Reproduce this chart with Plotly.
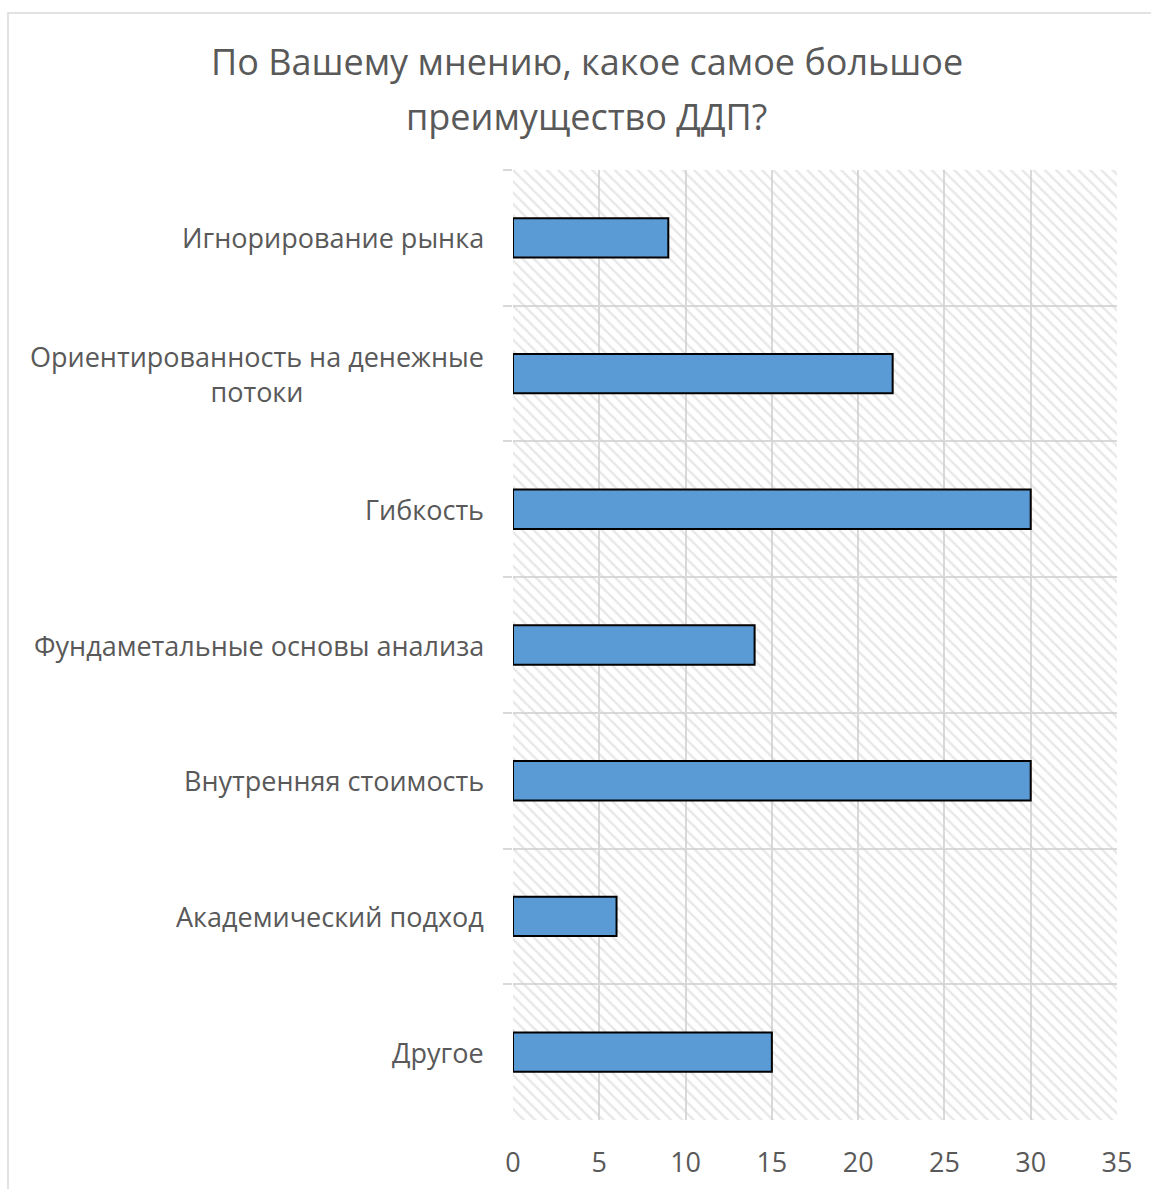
import plotly.graph_objects as go

title_lines = ["По Вашему мнению, какое самое большое", "преимущество ДДП?"]
categories = [
    "Игнорирование рынка",
    "Ориентированность на денежные<br>потоки",
    "Гибкость",
    "Фундаметальные основы анализа",
    "Внутренняя стоимость",
    "Академический подход",
    "Другое",
]
values = [9, 22, 30, 14, 30, 6, 15]
x_ticks = [0, 5, 10, 15, 20, 25, 30, 35]
x_max = 35

FONT = "Open Sans"
GRAY = "#595959"
GRID = "#d9d9d9"

W, H = 1151, 1189
L, R, T, B = 513, 1151 - 1117, 170, 1189 - 1120
pw, ph = W - L - R, H - T - B


def py2paper(py):
    return (H - B - py) / ph


fig = go.Figure()

# hatched plot-area background
fig.add_trace(go.Bar(
    y=categories, x=[x_max] * len(categories), orientation="h", width=1,
    marker=dict(color="rgba(0,0,0,0)", line=dict(width=0),
                pattern=dict(shape="\\", fgcolor="#d0d0d0", bgcolor="rgba(0,0,0,0)",
                             size=8, solidity=0.3)),
    hoverinfo="skip", showlegend=False,
))

fig.add_trace(go.Bar(
    y=categories, x=values, orientation="h", width=0.29,
    marker=dict(color="#5b9bd5", line=dict(color="black", width=2)),
    showlegend=False,
))

# category labels as centered multi-line annotations
for c in categories:
    fig.add_annotation(
        x=0, xref="paper", xshift=-27, y=c, yref="y", text=c,
        xanchor="right", yanchor="middle", align="center", showarrow=False,
        font=dict(family=FONT, size=27, color=GRAY),
    )

# title (two lines)
for line, cy in zip(title_lines, [62, 116]):
    fig.add_annotation(
        x=(586.5 - L) / pw, xref="paper", y=py2paper(cy), yref="paper", text=line,
        xanchor="center", yanchor="middle", showarrow=False,
        font=dict(family=FONT, size=36, color=GRAY),
    )

# outer chart-area border
fig.add_shape(
    type="rect", xref="paper", yref="paper",
    x0=(8 - L) / pw, x1=(1175 - L) / pw,
    y0=py2paper(1210), y1=py2paper(13),
    line=dict(color=GRID, width=1.5), fillcolor="rgba(0,0,0,0)", layer="below",
)

fig.update_layout(
    width=W, height=H,
    margin=dict(l=L, r=R, t=T, b=B, autoexpand=False),
    paper_bgcolor="white", plot_bgcolor="white",
    barmode="overlay",
    xaxis=dict(
        range=[0, x_max], tickvals=x_ticks, showgrid=True, gridcolor=GRID, gridwidth=1.5,
        zeroline=False, showline=False, ticks="outside", ticklen=19,
        tickcolor="rgba(0,0,0,0)", automargin=False,
        tickfont=dict(family=FONT, size=27, color=GRAY),
    ),
    yaxis=dict(
        type="category", autorange="reversed", tickson="boundaries",
        showgrid=True, gridcolor=GRID, gridwidth=1.5,
        ticks="outside", ticklen=9, tickcolor=GRID, tickwidth=1.5,
        showticklabels=False, showline=False, zeroline=False, automargin=False,
    ),
)

fig.write_html("out.html", config={"displayModeBar": False},
               post_script="document.body.style.margin='0';document.body.style.overflow='hidden';")
